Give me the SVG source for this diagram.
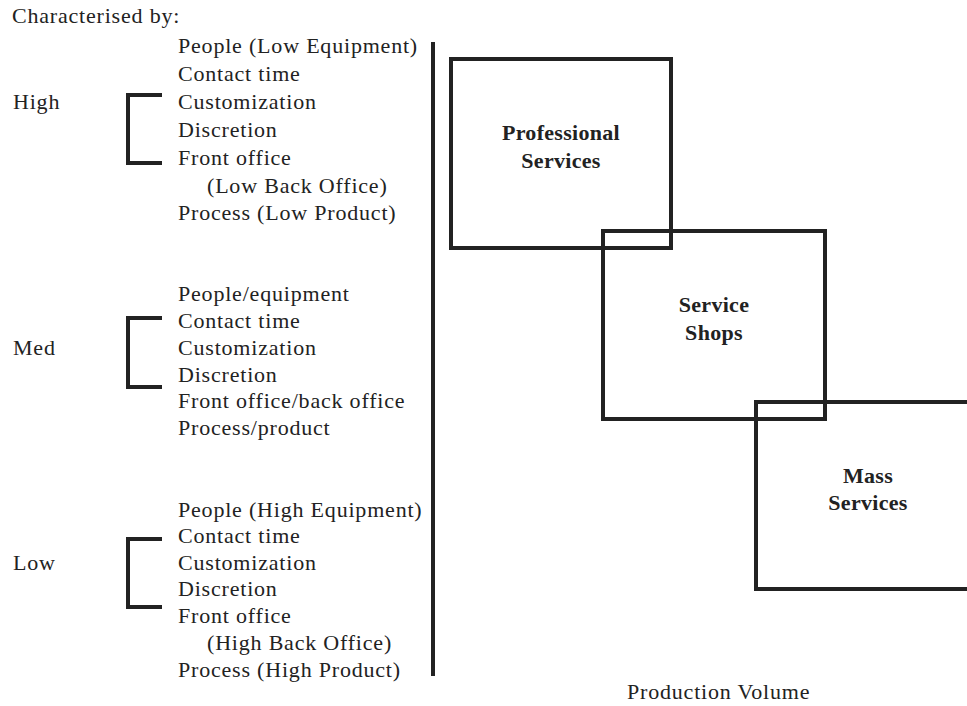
<svg xmlns="http://www.w3.org/2000/svg" width="967" height="706" viewBox="0 0 967 706">
<style>
.t{font-family:"Liberation Serif","Times New Roman",serif;font-size:22px;fill:#222;letter-spacing:0.8px}
.b{font-family:"Liberation Serif","Times New Roman",serif;font-size:22px;font-weight:bold;fill:#222;text-anchor:middle;letter-spacing:0.3px}
.br{fill:none;stroke:#222;stroke-width:4}
.box{fill:none;stroke:#222;stroke-width:4}
</style>
<rect width="967" height="706" fill="#fff"/>
<text class="t" x="12" y="23">Characterised by:</text>
<g id="high">
<text class="t" x="13" y="109">High</text>
<path class="br" d="M162,95 H128 V163 H162"/>
<text class="t" x="178" y="53">People (Low Equipment)</text>
<text class="t" x="178" y="81">Contact time</text>
<text class="t" x="178" y="109">Customization</text>
<text class="t" x="178" y="137">Discretion</text>
<text class="t" x="178" y="165">Front office</text>
<text class="t" x="207" y="193">(Low Back Office)</text>
<text class="t" x="178" y="220">Process (Low Product)</text>
</g>
<g id="med">
<text class="t" x="13" y="355">Med</text>
<path class="br" d="M162,318 H128 V387 H162"/>
<text class="t" x="178" y="301">People/equipment</text>
<text class="t" x="178" y="328">Contact time</text>
<text class="t" x="178" y="355">Customization</text>
<text class="t" x="178" y="382">Discretion</text>
<text class="t" x="178" y="408">Front office/back office</text>
<text class="t" x="178" y="435">Process/product</text>
</g>
<g id="low">
<text class="t" x="13" y="570">Low</text>
<path class="br" d="M162,539 H128 V607 H162"/>
<text class="t" x="178" y="517">People (High Equipment)</text>
<text class="t" x="178" y="543">Contact time</text>
<text class="t" x="178" y="570">Customization</text>
<text class="t" x="178" y="596">Discretion</text>
<text class="t" x="178" y="623">Front office</text>
<text class="t" x="207" y="650">(High Back Office)</text>
<text class="t" x="178" y="677">Process (High Product)</text>
</g>
<g id="axis">
<line x1="433" y1="42" x2="433" y2="676" stroke="#222" stroke-width="4"/>
</g>
<g id="professional">
<rect class="box" x="451" y="59" width="220" height="189"/>
<text class="b" x="561" y="140">Professional</text>
<text class="b" x="561" y="168">Services</text>
</g>
<g id="shops">
<rect class="box" x="603" y="231" width="222" height="188"/>
<text class="b" x="714" y="312">Service</text>
<text class="b" x="714" y="340">Shops</text>
</g>
<g id="mass">
<rect class="box" x="756" y="402" width="215" height="187"/>
<text class="b" x="868" y="483">Mass</text>
<text class="b" x="868" y="510">Services</text>
</g>
<text class="t" x="627" y="699">Production Volume</text>
</svg>
